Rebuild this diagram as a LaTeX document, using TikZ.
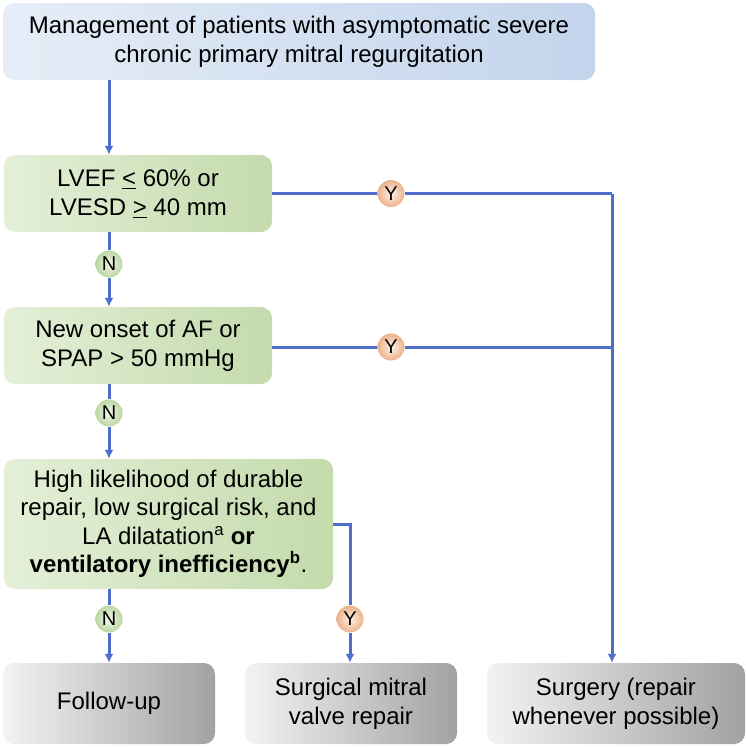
\documentclass[tikz,border=0pt]{standalone}
\usepackage{fontspec}
\setmainfont{Liberation Sans}
\usetikzlibrary{arrows.meta,positioning,calc}
\definecolor{linec}{HTML}{4D6FCB}
\definecolor{blueA}{HTML}{E6EDF7}
\definecolor{blueB}{HTML}{C2D4EC}
\definecolor{greenA}{HTML}{E4EFD8}
\definecolor{greenB}{HTML}{C4DBAC}
\definecolor{greyA}{HTML}{F3F3F3}
\definecolor{greyB}{HTML}{A2A2A2}
\definecolor{nIn}{HTML}{F2F7EC}
\definecolor{nOut}{HTML}{BCD6A0}
\definecolor{yIn}{HTML}{FDF1E6}
\definecolor{yOut}{HTML}{EBB289}
\tikzset{
  box/.style={rounded corners=11pt,inner sep=4pt,align=center,
    font=\fontsize{24}{29}\selectfont,text=black},
  boxt/.style={box,left color=blueA,right color=blueB},
  boxq/.style={box,left color=greenA,right color=greenB},
  boxo/.style={box,left color=greyA,right color=greyB},
  yn/.style={circle,minimum size=27pt,inner sep=0pt,font=\fontsize{20}{20}\selectfont},
  ynn/.style={yn,inner color=nIn,outer color=nOut},
  yny/.style={yn,inner color=yIn,outer color=yOut},
  link/.style={draw=linec,line width=3pt},
  flow/.style={link,-{Latex[length=9pt,width=9pt]}},
}
\begin{document}
\begin{tikzpicture}[x=1pt,y=-1pt]
  \useasboundingbox (0,0) rectangle (746,747);
  % start
  \node[boxt,minimum width=592pt,minimum height=77pt] (title) at (299,41.5)
    {Management of patients with asymptomatic severe\\chronic primary mitral regurgitation};
  % questions
  \node[boxq,minimum width=268pt,minimum height=77pt] (q1) at (138,193.5)
    {LVEF \underline{<} 60\% or\\LVESD \underline{>} 40 mm};
  \node[boxq,minimum width=268pt,minimum height=77pt] (q2) at (138,345.5)
    {New onset of AF or\\SPAP > 50 mmHg};
  \node[boxq,minimum width=329pt,minimum height=130pt,
    font=\fontsize{24}{28.5}\selectfont] (q3) at (168.5,524)
    {High likelihood of durable\\repair, low surgical risk, and\\
     LA dilatation\textsuperscript{a} \textbf{or}\\
     \textbf{ventilatory inefficiency\textsuperscript{b}}.};
  % outcomes
  \node[boxo,minimum width=212pt,minimum height=81pt] (o1) at (109,703.5) {Follow-up};
  \node[boxo,minimum width=212pt,minimum height=81pt] (o2) at (351,703.5)
    {Surgical mitral\\valve repair};
  \node[boxo,minimum width=258pt,minimum height=81pt] (o3) at (616,703.5)
    {Surgery (repair\\whenever possible)};
  % answers
  \node[ynn] (n1) at (109,264) {N};
  \node[ynn] (n2) at (109,413) {N};
  \node[ynn] (n3) at (109,619) {N};
  \node[yny] (y1) at (391,193.5) {Y};
  \node[yny] (y2) at (391,347) {Y};
  \node[yny] (y3) at (350,619) {Y};
  \coordinate (j1) at (612,193.5);
  \coordinate (k3) at (350,524);
  % N path
  \draw[flow] (title.south -| n1) -- (q1.north -| n1);
  \draw[link] (q1.south -| n1) -- (n1);
  \draw[flow] (n1) -- (q2.north -| n1);
  \draw[link] (q2.south -| n1) -- (n2);
  \draw[flow] (n2) -- (q3.north -| n2);
  \draw[link] (q3.south -| n3) -- (n3);
  \draw[flow] (n3) -- (o1.north -| n3);
  % Y paths
  \foreach \i in {1,2}
    \draw[link] (q\i.east |- y\i) -- (y\i) -- (j1 |- y\i);
  \draw[flow] (j1) -- (j1 |- o3.north);
  \draw[link] (q3.east |- k3) -- (k3) -- (y3);
  \draw[flow] (y3) -- (o2.north -| y3);
\end{tikzpicture}
\end{document}
